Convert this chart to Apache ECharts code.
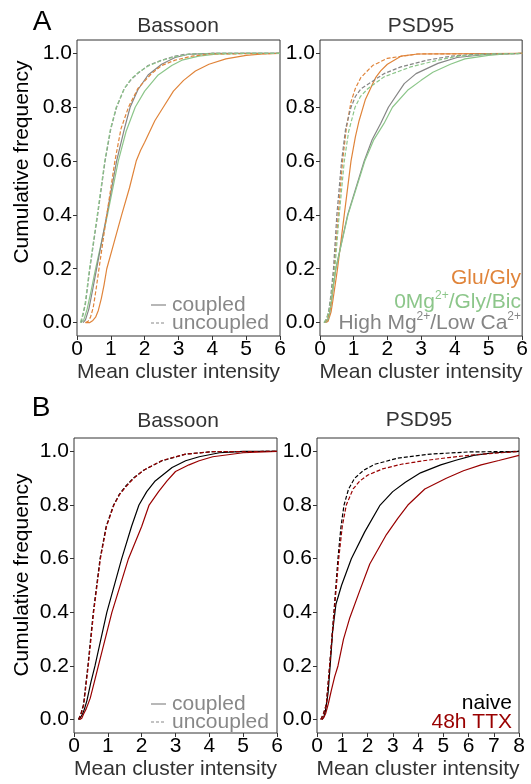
<!DOCTYPE html>
<html><head><meta charset="utf-8">
<script src="https://cdn.jsdelivr.net/npm/echarts@6/dist/echarts.min.js"></script>
<style>html,body{margin:0;padding:0;background:#fff}#c{width:531px;height:784px}</style>
</head><body><div id="c"></div>
<script>
// ---------- data (x = mean cluster intensity, y = cumulative frequency) ----------
// Panel A, Bassoon
const aBsnGluCpl = [[0.25,0],[0.38,0],[0.47,0.008],[0.55,0.02],[0.63,0.045],[0.72,0.09],[0.8,0.14],[0.88,0.2],[1.1,0.3],[1.32,0.4],[1.55,0.5],[1.75,0.6],[1.88,0.64],[2.0,0.67],[2.3,0.75],[2.55,0.8],[2.85,0.86],[3.15,0.9],[3.5,0.935],[3.9,0.96],[4.4,0.98],[5.0,0.993],[5.5,0.998],[6,1]];
const aBsnMgCpl  = [[0.12,0],[0.2,0.01],[0.3,0.05],[0.42,0.12],[0.55,0.2],[0.9,0.4],[1.22,0.6],[1.45,0.71],[1.72,0.8],[2.0,0.86],[2.4,0.92],[2.8,0.955],[3.1,0.975],[3.6,0.99],[4.1,0.997],[5,1],[6,1]];
const aBsnHiCpl  = [[0.18,0],[0.25,0.01],[0.35,0.05],[0.46,0.12],[0.58,0.2],[0.88,0.4],[1.17,0.6],[1.4,0.72],[1.57,0.8],[1.8,0.865],[2.1,0.92],[2.5,0.96],[2.9,0.985],[3.3,0.997],[4,1],[6,1]];
const aBsnGluUnc = [[0.25,0],[0.33,0.005],[0.4,0.02],[0.48,0.056],[0.56,0.12],[0.65,0.2],[0.88,0.4],[1.12,0.6],[1.3,0.72],[1.52,0.8],[1.8,0.87],[2.2,0.925],[2.5,0.955],[2.9,0.975],[3.4,0.99],[3.9,0.998],[6,1]];
const aBsnMgUnc  = [[0.1,0],[0.17,0.03],[0.24,0.07],[0.37,0.2],[0.6,0.4],[0.82,0.6],[0.99,0.72],[1.16,0.8],[1.4,0.87],[1.6,0.905],[1.8,0.928],[2.1,0.953],[2.5,0.974],[2.9,0.988],[3.3,0.997],[4,1],[6,1]];
const aBsnHiUnc  = [[0.12,0],[0.18,0.03],[0.25,0.07],[0.38,0.2],[0.61,0.4],[0.83,0.6],[1.0,0.72],[1.17,0.8],[1.4,0.87],[1.6,0.903],[1.81,0.927],[2.1,0.955],[2.5,0.975],[2.9,0.99],[3.2,0.997],[4,1],[6,1]];
// Panel A, PSD95
const aPsdGluCpl = [[0.18,0],[0.24,0.005],[0.28,0.02],[0.33,0.04],[0.38,0.08],[0.45,0.14],[0.52,0.2],[0.72,0.4],[0.92,0.6],[1.05,0.69],[1.16,0.75],[1.35,0.83],[1.51,0.873],[1.65,0.91],[1.8,0.935],[2.0,0.96],[2.4,0.99],[2.9,0.998],[6,1]];
const aPsdMgCpl  = [[0.15,0],[0.22,0.008],[0.27,0.025],[0.33,0.07],[0.4,0.14],[0.47,0.2],[0.83,0.4],[1.33,0.6],[1.6,0.68],[1.9,0.74],[2.15,0.8],[2.6,0.863],[3.0,0.9],[3.35,0.93],[3.87,0.96],[4.3,0.98],[5,0.993],[5.5,0.998],[6,1]];
const aPsdHiCpl  = [[0.15,0],[0.22,0.008],[0.27,0.025],[0.33,0.07],[0.4,0.14],[0.47,0.2],[0.82,0.4],[1.31,0.6],[1.55,0.68],[1.8,0.74],[2.03,0.8],[2.5,0.888],[2.85,0.925],[3.5,0.963],[4.07,0.985],[5,0.997],[6,1]];
const aPsdGluUnc = [[0.13,0],[0.2,0.01],[0.26,0.03],[0.31,0.06],[0.36,0.12],[0.42,0.2],[0.54,0.4],[0.67,0.6],[0.78,0.72],[0.92,0.82],[1.05,0.87],[1.21,0.91],[1.56,0.955],[2.0,0.982],[2.9,0.998],[6,1]];
const aPsdMgUnc  = [[0.12,0],[0.2,0.015],[0.27,0.045],[0.34,0.1],[0.44,0.2],[0.57,0.4],[0.72,0.6],[0.85,0.71],[1.04,0.8],[1.2,0.84],[1.41,0.868],[1.9,0.913],[2.69,0.95],[3.5,0.975],[4.1,0.99],[5,0.998],[6,1]];
const aPsdHiUnc  = [[0.12,0],[0.2,0.015],[0.26,0.045],[0.32,0.1],[0.4,0.2],[0.5,0.4],[0.64,0.6],[0.76,0.72],[0.92,0.8],[1.05,0.84],[1.21,0.868],[1.9,0.925],[2.4,0.95],[3.18,0.975],[3.9,0.99],[4.6,0.997],[6,1]];
// Panel B, Bassoon
const bBsnNaiveCpl = [[0.15,0],[0.2,0.005],[0.25,0.02],[0.31,0.04],[0.38,0.07],[0.5,0.14],[0.62,0.2],[0.97,0.4],[1.41,0.6],[1.7,0.72],[1.92,0.8],[2.15,0.85],[2.4,0.89],[2.9,0.94],[3.3,0.965],[3.7,0.98],[4.3,0.995],[5,1],[6,1]];
const bBsnTtxCpl   = [[0.17,0],[0.23,0.005],[0.28,0.02],[0.36,0.04],[0.48,0.08],[0.6,0.14],[0.72,0.2],[1.12,0.4],[1.61,0.6],[2.0,0.72],[2.22,0.8],[2.5,0.85],[2.75,0.89],[3.0,0.925],[3.4,0.95],[3.7,0.965],[4.1,0.98],[5,0.995],[6,1]];
const bBsnNaiveUnc = [[0.13,0],[0.2,0.02],[0.28,0.056],[0.41,0.2],[0.57,0.4],[0.77,0.6],[0.95,0.72],[1.17,0.8],[1.34,0.84],[1.51,0.868],[1.75,0.9],[2.06,0.93],[2.6,0.965],[3.3,0.99],[4.1,0.999],[6,1]];
const bBsnTtxUnc   = [[0.14,0],[0.21,0.02],[0.29,0.056],[0.42,0.2],[0.58,0.4],[0.78,0.6],[0.96,0.72],[1.18,0.8],[1.35,0.84],[1.52,0.866],[1.75,0.898],[2.06,0.93],[2.6,0.966],[3.3,0.99],[4.1,0.999],[6,1]];
// Panel B, PSD95
const bPsdNaiveCpl = [[0.2,0],[0.27,0.01],[0.33,0.03],[0.44,0.1],[0.52,0.2],[0.62,0.33],[0.75,0.43],[0.97,0.5],[1.36,0.6],[1.89,0.7],[2.5,0.8],[3.0,0.85],[3.5,0.885],[4.1,0.92],[4.9,0.95],[5.5,0.967],[6.2,0.985],[7,0.995],[8,1]];
const bPsdTtxCpl   = [[0.2,0],[0.28,0.01],[0.35,0.025],[0.45,0.06],[0.57,0.11],[0.7,0.16],[0.83,0.2],[1.05,0.3],[1.3,0.38],[1.69,0.48],[2.09,0.58],[2.75,0.69],[3.2,0.75],[3.6,0.8],[4.27,0.86],[5.12,0.9],[5.8,0.928],[6.5,0.95],[7.2,0.966],[8,0.985]];
const bPsdNaiveUnc = [[0.15,0],[0.25,0.02],[0.37,0.056],[0.5,0.2],[0.67,0.4],[0.83,0.6],[0.95,0.72],[1.07,0.8],[1.25,0.86],[1.49,0.9],[1.85,0.93],[2.29,0.952],[3.2,0.975],[4.5,0.99],[6,0.998],[8,1]];
const bPsdTtxUnc   = [[0.15,0],[0.25,0.02],[0.37,0.056],[0.5,0.2],[0.68,0.4],[0.86,0.6],[1.0,0.72],[1.16,0.8],[1.43,0.86],[1.7,0.89],[2.02,0.912],[2.6,0.935],[3.34,0.952],[4.2,0.965],[5.2,0.977],[6.3,0.988],[7.3,0.995],[8,1]];

const yTicks = [0, 0.2, 0.4, 0.6, 0.8, 1.0];
const xMaxA = 6, xMaxBBsn = 6, xMaxBPsd = 8;
const titles = ['Bassoon', 'PSD95'];
const xName = 'Mean cluster intensity';
const yName = 'Cumulative frequency';

// ---------- styles ----------
const FONT = '"Liberation Sans", Arial, sans-serif';
const FS = 21;
const C_GLU = '#e0843a', C_MG = '#8cc68a', C_HI = '#858585', C_NAIVE = '#000000', C_TTX = '#990000';

const grids = [
  {left: 77, top: 40, width: 203, height: 296},
  {left: 320, top: 40, width: 203, height: 296},
  {left: 74, top: 438, width: 203, height: 295},
  {left: 317, top: 438, width: 202, height: 295}
].map(g => Object.assign({show: true, borderColor: '#333', borderWidth: 1, backgroundColor: 'transparent'}, g));

function xAx(i, max) {
  return {gridIndex: i, type: 'value', min: 0, max: max, interval: 1,
    axisLine: {show: false, onZero: false}, splitLine: {show: false},
    axisTick: {show: true, length: 4, lineStyle: {color: '#333'}},
    axisLabel: {fontSize: FS, color: '#000', fontFamily: FONT, margin: 3},
    name: xName, nameLocation: 'middle', nameGap: 26,
    nameTextStyle: {fontSize: FS, color: '#333', fontFamily: FONT}};
}
function yAx(i) {
  return {gridIndex: i, type: 'value', min: -0.05, max: 1.05,
    axisLine: {show: false, onZero: false}, splitLine: {show: false},
    axisTick: {show: true, length: 4, customValues: yTicks, lineStyle: {color: '#333'}},
    axisLabel: {fontSize: FS, color: '#000', fontFamily: FONT, margin: 5, customValues: yTicks,
      formatter: v => v.toFixed(1)}};
}
function ln(i, data, color, dashed) {
  return {type: 'line', xAxisIndex: i, yAxisIndex: i, data: data, showSymbol: false,
    smooth: false, silent: true, animation: false,
    lineStyle: {color: color, width: 1.2, type: dashed ? [4, 2] : 'solid'}};
}

const series = [
  ln(0, aBsnGluCpl, C_GLU, false), ln(0, aBsnMgCpl, C_MG, false), ln(0, aBsnHiCpl, C_HI, false),
  ln(0, aBsnGluUnc, C_GLU, true), ln(0, aBsnHiUnc, C_HI, true), ln(0, aBsnMgUnc, C_MG, true),
  ln(1, aPsdGluCpl, C_GLU, false), ln(1, aPsdHiCpl, C_HI, false), ln(1, aPsdMgCpl, C_MG, false),
  ln(1, aPsdGluUnc, C_GLU, true), ln(1, aPsdHiUnc, C_HI, true), ln(1, aPsdMgUnc, C_MG, true),
  ln(2, bBsnNaiveCpl, C_NAIVE, false), ln(2, bBsnTtxCpl, C_TTX, false),
  ln(2, bBsnNaiveUnc, C_NAIVE, true), ln(2, bBsnTtxUnc, C_TTX, true),
  ln(3, bPsdNaiveCpl, C_NAIVE, false), ln(3, bPsdTtxCpl, C_TTX, false),
  ln(3, bPsdNaiveUnc, C_NAIVE, true), ln(3, bPsdTtxUnc, C_TTX, true)
];

function txt(x, y, text, size, color, align, extra) {
  return Object.assign({type: 'text', x: x, y: y, silent: true,
    style: {text: text, fontSize: size, fill: color, fontFamily: FONT, align: align || 'center', verticalAlign: 'middle'}}, extra || {});
}
function seg(x1, y1, x2, y2, color, dashed) {
  return {type: 'line', silent: true, shape: {x1: x1, y1: y1, x2: x2, y2: y2},
    style: {stroke: color, lineWidth: 1.2, lineDash: dashed ? [3, 2] : null}};
}
function richTxt(x, y, parts, color) {
  const rich = {n: {fontSize: FS, fill: color, fontFamily: FONT, lineHeight: 23, verticalAlign: 'bottom'},
                s: {fontSize: 12, fill: color, fontFamily: FONT, lineHeight: 23, verticalAlign: 'top'}};
  return {type: 'text', x: x, y: y, silent: true,
    style: {text: parts, rich: rich, align: 'right', verticalAlign: 'middle', fill: color}};
}

const graphic = [
  txt(42, 22, 'A', 28, '#000'),
  txt(41, 408, 'B', 28, '#000'),
  txt(178, 26, titles[0], FS, '#333'), txt(421, 26, titles[1], FS, '#333'),
  txt(178, 421, titles[0], FS, '#333'), txt(419, 420, titles[1], FS, '#333'),
  txt(22, 162, yName, FS, '#000', 'center', {rotation: Math.PI / 2}),
  txt(22, 575, yName, FS, '#000', 'center', {rotation: Math.PI / 2}),
  // coupled / uncoupled keys
  seg(151, 305, 166, 305, '#888', false), seg(151, 323, 166, 323, '#888', true),
  txt(172, 305, 'coupled', FS, '#888', 'left'), txt(172, 323, 'uncoupled', FS, '#888', 'left'),
  seg(151, 704, 166, 704, '#888', false), seg(151, 722, 166, 722, '#888', true),
  txt(172, 704, 'coupled', FS, '#888', 'left'), txt(172, 722, 'uncoupled', FS, '#888', 'left'),
  // condition keys
  txt(521, 278, 'Glu/Gly', FS, C_GLU, 'right'),
  richTxt(521, 301, '{n|0Mg}{s|2+}{n|/Gly/Bic}', C_MG),
  richTxt(521, 322, '{n|High Mg}{s|2+}{n|/Low Ca}{s|2+}', C_HI),
  txt(512, 703, 'naive', FS, '#000', 'right'),
  txt(512, 722, '48h TTX', FS, C_TTX, 'right')
];

const chart = echarts.init(document.getElementById('c'), null, {renderer: 'canvas'});
chart.setOption({
  animation: false,
  backgroundColor: '#fff',
  grid: grids,
  xAxis: [xAx(0, xMaxA), xAx(1, xMaxA), xAx(2, xMaxBBsn), xAx(3, xMaxBPsd)],
  yAxis: [yAx(0), yAx(1), yAx(2), yAx(3)],
  series: series,
  graphic: graphic
});
</script></body></html>
